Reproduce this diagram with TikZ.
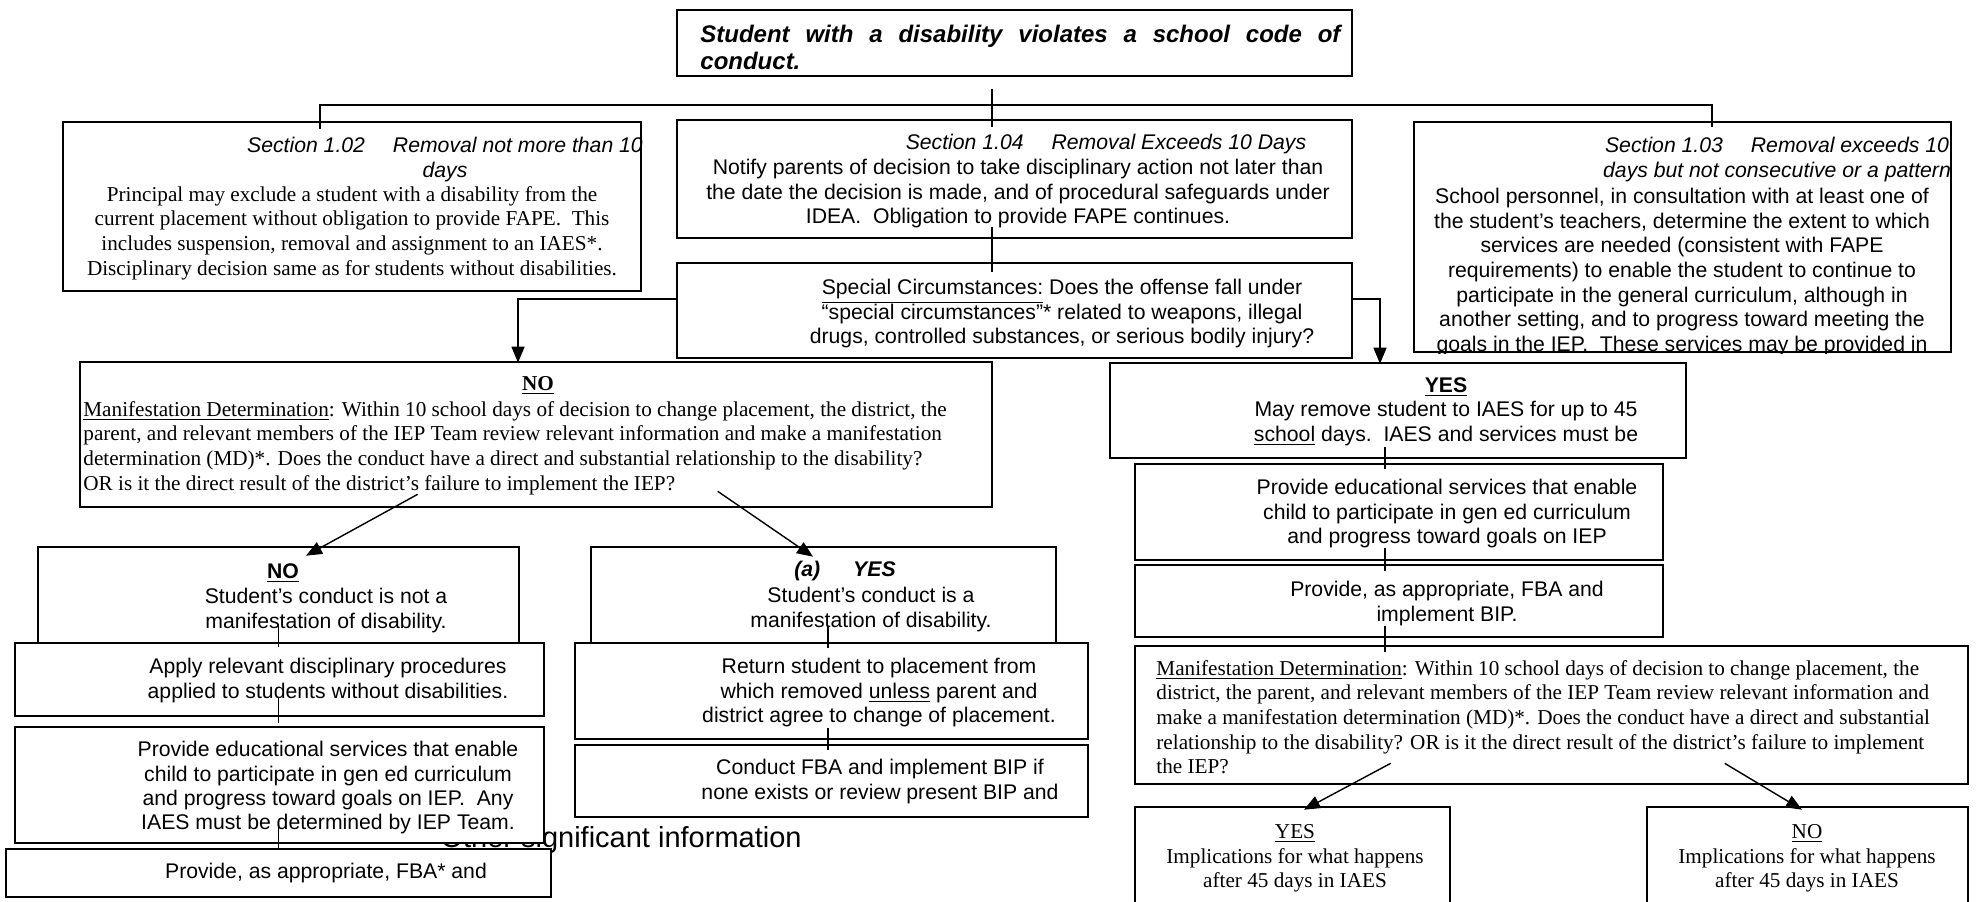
\documentclass[tikz,border=0pt]{standalone}
\usepackage{fontspec}
\setmainfont{Liberation Serif}
\setsansfont{Liberation Sans}
\usetikzlibrary{arrows.meta, fit, calc}

\begin{document}
\begin{tikzpicture}[
	x=0.5pt, y=-0.5pt,
	panel/.style={draw, fill=white, line width=1.3pt, inner sep=0pt},
	sanstxt/.style={font=\sffamily\fontsize{10.6}{12.2}\selectfont, inner sep=0pt, anchor=north, align=center},
	serftxt/.style={font=\rmfamily\fontsize{10.6}{12.3}\selectfont, inner sep=0pt, anchor=north, align=center},
	headtxt/.style={sanstxt, font=\sffamily\itshape\fontsize{10.6}{12.2}\selectfont},
	link/.style={line width=0.7pt},
	arrow/.style={link, -{Triangle[width=6.5pt,length=8pt]}}
	]
	
	\clip (0,0) rectangle (1977,901);
	\fill[white] (0,0) rectangle (1977,901);
	
	% Text lying behind the left column
	\node[font=\sffamily\fontsize{14.5}{16}\selectfont, anchor=base west, inner sep=0pt] (othinfo) at (343,847) {•\hspace{43.5pt}Other significant information};
	
	% Top
	\node[panel, fit={(677,10) (1352,76)}] (start) {};
	\node[font=\sffamily\bfseries\itshape\fontsize{12}{13.2}\selectfont, anchor=north west, inner sep=0pt, align=left] (startt) at (700,25) {\makebox[320pt][s]{Student with a disability violates a school code of}\\conduct.};
	
	% Sections
	\node[panel, fit={(63,122) (641,291)}] (sec102) {};
	\begin{scope}
		\clip (sec102.south west) rectangle (sec102.north east);
		\node[headtxt] (sec102h) at (445,137) {Section 1.02\hspace{14pt}Removal not more than 10\\days};
	\end{scope}
	\node[serftxt] (sec102b) at (352,186) {Principal may exclude a student with a disability from the\\current placement without obligation to provide FAPE.\ \ This\\includes suspension, removal and assignment to an IAES*.\\Disciplinary decision same as for students without disabilities.};
	
	\node[panel, fit={(677,120) (1352,238)}] (sec104) {};
	\node[headtxt] (sec104h) at (1106,134) {Section 1.04\hspace{14pt}Removal Exceeds 10 Days};
	\node[sanstxt] (sec104b) at (1018,159) {Notify parents of decision to take disciplinary action not later than\\the date the decision is made, and of procedural safeguards under\\IDEA.\ \ Obligation to provide FAPE continues.};
	
	\node[panel, fit={(1414,122) (1951,352)}] (sec103) {};
	\begin{scope}
		\clip (sec103.south west) rectangle (sec103.north east);
		\node[headtxt] (sec103h) at (1777,137) {Section 1.03\hspace{14pt}Removal exceeds 10\\days but not consecutive or a pattern};
		\node[sanstxt, font=\sffamily\fontsize{10.6}{12.3}\selectfont] (sec103b) at (1682,188) {School personnel, in consultation with at least one of\\the student’s teachers, determine the extent to which\\services are needed (consistent with FAPE\\requirements) to enable the student to continue to\\participate in the general curriculum, although in\\another setting, and to progress toward meeting the\\goals in the IEP.\ \ These services may be provided in};
	\end{scope}
	
	\node[panel, fit={(677,263) (1352,358)}] (special) {};
	\node[sanstxt] (specialt) at (1062,279) {\underline{Special Circumstances:} Does the offense fall under\\“special circumstances”* related to weapons, illegal\\drugs, controlled substances, or serious bodily injury?};
	
	% NO branch
	\node[panel, fit={(80,362) (992,507)}] (mdno) {};
	\node[serftxt, font=\rmfamily\bfseries\fontsize{10.6}{12.3}\selectfont] (mdnohd) at (538,376) {\underline{NO}};
	\node[serftxt, anchor=north west, align=left] (mdnot) at (83,401) {\underline{Manifestation Determination}: Within 10 school days of decision to change placement, the district, the\\parent, and relevant members of the IEP Team review relevant information and make a manifestation\\determination (MD)*. Does the conduct have a direct and substantial relationship to the disability?\\OR is it the direct result of the district’s failure to implement the IEP?};
	
	\node[panel, fit={(38,547) (519,643)}] (notman) {};
	\node[sanstxt, font=\sffamily\bfseries\fontsize{10.6}{12.2}\selectfont] (notmanhd) at (283,563) {\underline{NO}};
	\node[sanstxt] (notmant) at (326,588) {Student’s conduct is not a\\manifestation of disability.};
	\node[panel, fit={(15,643) (544,716)}] (apply) {};
	\node[sanstxt] (applyt) at (328,658) {Apply relevant disciplinary procedures\\applied to students without disabilities.};
	\node[panel, fit={(15,727) (544,843)}] (provl) {};
	\node[sanstxt] (provlt) at (328,741) {Provide educational services that enable\\child to participate in gen ed curriculum\\and progress toward goals on IEP.\ \ Any\\IAES must be determined by IEP Team.};
	\node[panel, fit={(6,849) (551,897)}] (fbal) {};
	\node[sanstxt] (fbalt) at (326,863) {Provide, as appropriate, FBA* and};
	
	\node[panel, fit={(591,547) (1056,643)}] (yesman) {};
	\node[sanstxt, font=\sffamily\bfseries\itshape\fontsize{10.6}{12.2}\selectfont] (yesmanhd) at (845,561) {(a)\hspace{16.5pt}YES};
	\node[sanstxt] (yesmant) at (871,587) {Student’s conduct is a\\manifestation of disability.};
	\node[panel, fit={(575,643) (1088,739)}] (retn) {};
	\node[sanstxt] (retnt) at (879,658) {Return student to placement from\\which removed \underline{unless} parent and\\district agree to change of placement.};
	\node[panel, fit={(575,745) (1088,817)}] (cond) {};
	\node[sanstxt] (condt) at (880,759) {Conduct FBA and implement BIP if\\none exists or review present BIP and};
	
	% YES branch
	\node[panel, fit={(1110,363) (1686,458)}] (mayrm) {};
	\node[sanstxt] (mayrmt) at (1446,377) {\textbf{\underline{YES}}\\May remove student to IAES for up to 45\\\underline{school} days.\ \ IAES and services must be};
	\node[panel, fit={(1135,464) (1663,560)}] (provr) {};
	\node[sanstxt] (provrt) at (1447,479) {Provide educational services that enable\\child to participate in gen ed curriculum\\and progress toward goals on IEP};
	\node[panel, fit={(1135,565) (1663,637)}] (fbar) {};
	\node[sanstxt] (fbart) at (1447,581) {Provide, as appropriate, FBA and\\implement BIP.};
	\node[panel, fit={(1135,646) (1968,784)}] (mdr) {};
	\node[serftxt, anchor=north west, align=left] (mdrt) at (1156,660) {\underline{Manifestation Determination}: Within 10 school days of decision to change placement, the\\district, the parent, and relevant members of the IEP Team review relevant information and\\make a manifestation determination (MD)*. Does the conduct have a direct and substantial\\relationship to the disability? OR is it the direct result of the district’s failure to implement\\the IEP?};
	\node[panel, fit={(1135,807) (1450,920)}] (implyes) {};
	\node[serftxt] (implyest) at (1295,824) {\underline{YES}\\Implications for what happens\\after 45 days in IAES};
	\node[panel, fit={(1647,807) (1968,920)}] (implno) {};
	\node[serftxt] (implnot) at (1807,824) {\underline{NO}\\Implications for what happens\\after 45 days in IAES};
	
	% Connectors
	\coordinate (trunk) at (992,105);
	\coordinate (busl) at (320,105);
	\coordinate (busr) at (1712,105);
	\draw[link] ($(start.south -| trunk)+(0,12)$) -- ($(sec104.north -| trunk)+(0,8)$);
	\draw[link] ($(sec102.north -| busl)+(0,8)$) |- (busr) -- ($(sec103.north -| busr)+(0,6)$);
	\draw[link] ($(sec104.south -| trunk)+(0,-12)$) -- ($(special.north -| trunk)+(0,10)$);
	\draw[arrow] ($(special.west)+(0,-11.5)$) -| ($(mdno.north)+(-18,2)$);
	\draw[arrow] ($(special.east)+(0,-11.5)$) -| ($(mayrm.north)+(-18,2)$);
	
	\draw[arrow] ($(mdno.south west)+(339,-14)$) -- ($(notman.north)+(27.5,10)$);
	\draw[arrow] ($(mdno.south west)+(639,-17)$) -- ($(yesman.north)+(-10.5,11)$);
	
	\draw[link] ($(notman.south)+(0,-20)$) -- ($(apply.north -| notman.south)+(0,5)$);
	\draw[link] ($(apply.south -| notman.south)+(0,-20)$) -- ($(provl.north -| notman.south)+(0,-3)$);
	\draw[link] ($(provl.south -| notman.south)+(0,-18)$) -- ($(fbal.north -| notman.south)+(0,2)$);
	
	\draw[link] ($(yesman.south)+(4.5,-18)$) -- ($(retn.north -| yesman.south)+(4.5,6)$);
	\draw[link] ($(retn.south -| yesman.south)+(4.5,-12)$) -- ($(cond.north -| yesman.south)+(4.5,6)$);
	
	\draw[link] ($(mayrm.south)+(-13,-12)$) -- ($(provr.north -| mayrm.south)+(-13,6)$);
	\draw[link] ($(provr.south -| mayrm.south)+(-13,-13)$) -- ($(fbar.north -| mayrm.south)+(-13,7)$);
	\draw[link] ($(fbar.south -| mayrm.south)+(-13,-12)$) -- ($(mdr.north -| mayrm.south)+(-13,7)$);
	
	\draw[arrow] ($(mdr.south west)+(257,-22)$) -- ($(implyes.north)+(11.5,4)$);
	\draw[arrow] ($(mdr.south west)+(591,-22)$) -- ($(implno.north)+(-5.5,4)$);
	
\end{tikzpicture}
\end{document}
